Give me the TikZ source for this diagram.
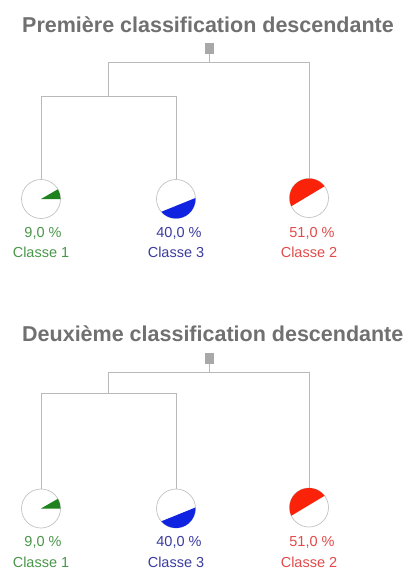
\documentclass[tikz,border=0pt]{standalone}
\usepackage{fontspec}
\setmainfont{Liberation Sans}
\usetikzlibrary{calc}
\definecolor{titlegray}{RGB}{112,112,112}
\definecolor{linegray}{RGB}{185,185,185}
\definecolor{sqgray}{RGB}{168,168,168}
\definecolor{ringgray}{RGB}{195,195,195}
\definecolor{gfill}{RGB}{30,130,30}
\definecolor{gtext}{RGB}{75,150,75}
\definecolor{bfill}{RGB}{15,35,225}
\definecolor{btext}{RGB}{60,60,160}
\definecolor{rfill}{RGB}{250,35,10}
\definecolor{rtext}{RGB}{225,75,75}
\begin{document}
\begin{tikzpicture}[x=1pt,y=1pt,
  ttl/.style={anchor=base west,inner sep=0,text=titlegray,font=\fontsize{21.5}{24}\selectfont\bfseries},
  rootsq/.style={draw=none,fill=sqgray,minimum width=9pt,minimum height=11pt,inner sep=0},
  link/.style={draw=linegray,line width=0.9pt},
  pie/.style={circle,draw=ringgray,line width=0.7pt,fill=white,minimum size=39pt,inner sep=0},
  lbl/.style={anchor=base,inner sep=0,font=\fontsize{14.5}{16}\selectfont}]
\useasboundingbox (0,0) rectangle (410,-570);
\fill[white] (0,0) rectangle (410,-570);
\clip (0,0) rectangle (410,-570);
\foreach \dy/\hb/\nm/\tt in {0/-96/a/Première classification descendante, -309.5/-393.5/b/Deuxième classification descendante}{
  \begin{scope}[yshift=\dy]
    \node[ttl] (t\nm) at (22,-32) {\tt};
    \node[rootsq] (s\nm) at (209,-48.5) {};
    \coordinate (h\nm) at (108,-62.5);
    \node[pie] (c1\nm) at (41,-199) {};
    \node[pie] (c2\nm) at (176,-199) {};
    \node[pie] (c3\nm) at (309,-198) {};
    \fill[gfill] (c1\nm.center) -- ++(0:19.5pt) arc (0:30:19.5pt) -- cycle;
    \fill[bfill] ($(c2\nm.center)+(221:19.5pt)$) arc (221:363:19.5pt) -- cycle;
    \fill[rfill] ($(c3\nm.center)+(37:19.5pt)$) arc (37:205:19.5pt) -- cycle;
    \node[lbl,text=gtext] (p1\nm) at (43,-237) {9,0 \%};
    \node[lbl,text=gtext] (n1\nm) at (41,-257.5) {Classe 1};
    \node[lbl,text=btext] (p2\nm) at (179,-237) {40,0 \%};
    \node[lbl,text=btext] (n2\nm) at (176,-257.5) {Classe 3};
    \node[lbl,text=rtext] (p3\nm) at (312,-237) {51,0 \%};
    \node[lbl,text=rtext] (n3\nm) at (309,-257.5) {Classe 2};
  \end{scope}
  \coordinate (k\nm) at (108,\hb);
  \draw[link] (s\nm.south) -- (s\nm.south |- h\nm);
  \draw[link] (c3\nm.north) |- (h\nm) -- (k\nm);
  \draw[link] (c1\nm.north) |- (c2\nm.north |- k\nm) -- (c2\nm.north);
}
\end{tikzpicture}
\end{document}
